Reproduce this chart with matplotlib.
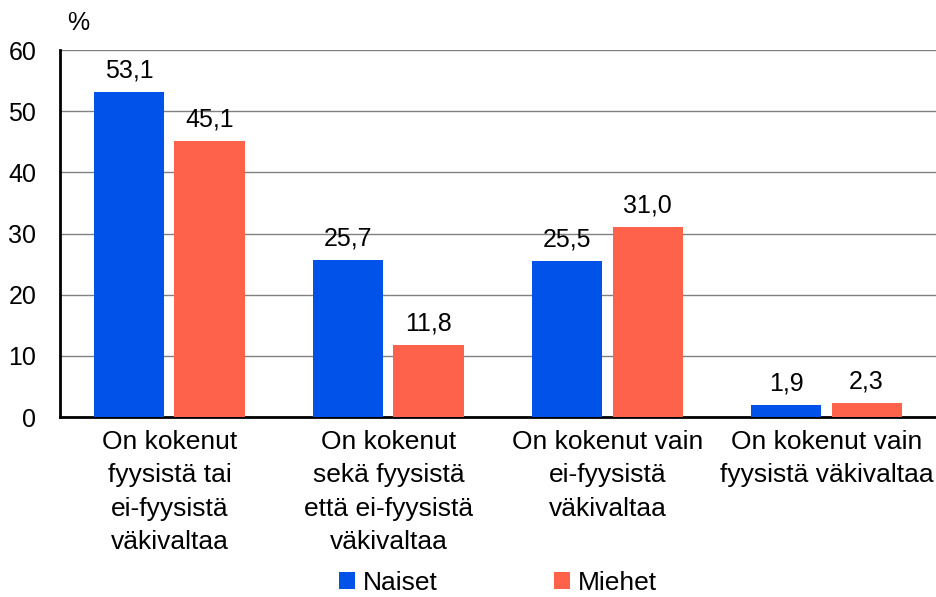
import matplotlib.pyplot as plt
import numpy as np

plt.rcParams['font.family'] = ['Liberation Sans', 'DejaVu Sans']

categories = [
    "On kokenut\nfyysistä tai\nei-fyysistä\nväkivaltaa",
    "On kokenut\nsekä fyysistä\nettä ei-fyysistä\nväkivaltaa",
    "On kokenut vain\nei-fyysistä\nväkivaltaa",
    "On kokenut vain\nfyysistä väkivaltaa",
]
naiset = [53.1, 25.7, 25.5, 1.9]
miehet = [45.1, 11.8, 31.0, 2.3]
yticks = [0, 10, 20, 30, 40, 50, 60]

blue = "#0052E8"
coral = "#FF624A"

fig = plt.figure(figsize=(9.36, 5.97), dpi=100)
ax = fig.add_axes([0.064, 0.3015, 0.936, 0.6145])

x = np.arange(len(categories))
w = 0.32
off = 0.183
b1 = ax.bar(x - off, naiset, w, color=blue, label="Naiset", zorder=3)
b2 = ax.bar(x + off, miehet, w, color=coral, label="Miehet", zorder=3)

for bars, vals in ((b1, naiset), (b2, miehet)):
    for rect, v in zip(bars, vals):
        ax.text(rect.get_x() + rect.get_width() / 2, v + 1.6,
                f"{v:.1f}".replace(".", ","), ha="center", va="bottom",
                fontsize=18)

ax.set_xlim(-0.5, len(categories) - 0.5)
ax.set_ylim(0, 60)
ax.set_yticks(yticks)
ax.set_yticklabels([str(t) for t in yticks], fontsize=18)
ax.set_xticks(x)
ax.set_xticklabels(categories, fontsize=19, linespacing=1.5)
ax.tick_params(axis="x", length=0, pad=9)
ax.tick_params(axis="y", length=0, pad=17)

ax.yaxis.grid(True, color="#808080", linewidth=1, zorder=0)
for s in ("top", "right"):
    ax.spines[s].set_visible(False)
ax.spines["left"].set_linewidth(2)
ax.spines["bottom"].set_linewidth(2)

fig.text(0.083, 0.962, "%", fontsize=18, ha="center", va="center")

ax.legend(loc="center", bbox_to_anchor=(0.5, -0.452), ncol=2, frameon=False,
          fontsize=19, handlelength=0.6, handleheight=0.6, handletextpad=0.3,
          columnspacing=4.4, borderaxespad=0, borderpad=0)

fig.savefig("out.png", dpi=100)
